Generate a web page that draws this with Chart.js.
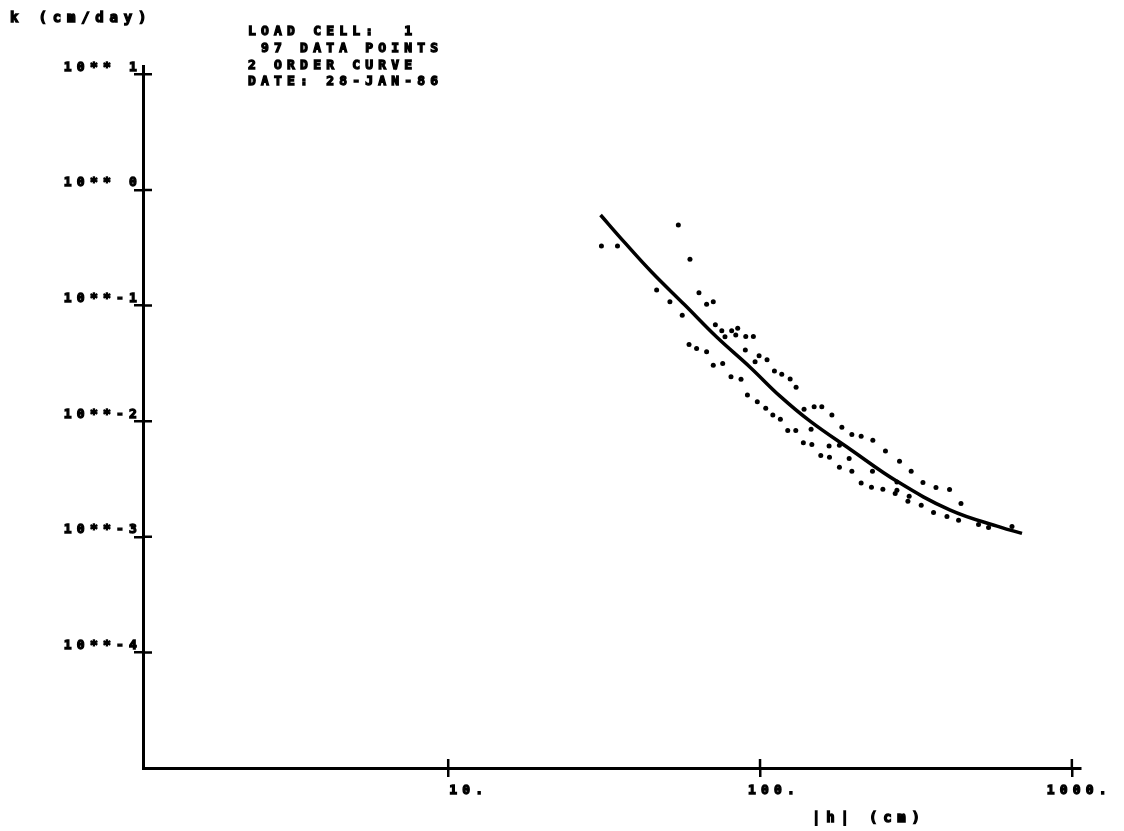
<!DOCTYPE html>
<html>
<head>
<meta charset="utf-8">
<script src="https://cdn.jsdelivr.net/npm/chart.js@4/dist/chart.umd.min.js"></script>
<style>
  body { margin: 0; background: #fff; }
</style>
</head>
<body>
<canvas id="chart" width="1124" height="831"></canvas>
<script>
// tick positions and labels (plotter style)
const xTicks = [10, 100, 1000];
const xTickLabels = ['10.', '100.', '1000.'];
const yTicks = [10, 1, 0.1, 0.01, 0.001, 0.0001];
const yTickLabels = ['10** 1', '10** 0', '10**-1', '10**-2', '10**-3', '10**-4'];

const yTitle = 'k (cm/day)';
const xTitle = '|h| (cm)';
const infoLines = ['LOAD CELL:  1', ' 97 DATA POINTS', '2 ORDER CURVE', 'DATE: 28-JAN-86'];

// measured points, |h| in cm and k in cm/day
const pointH = [31.0, 34.9, 54.7, 59.6, 46.6, 51.4, 63.7, 67.4, 70.8, 56.3,
  71.9, 75.4, 77.2, 81.1, 83.6, 84.8, 90.0, 95.2, 59.2, 62.6,
  67.4, 89.7, 70.8, 75.9, 99.3, 96.4, 105.3, 111.2, 80.7, 86.9,
  91.1, 117.4, 124.9, 130.5, 98.0, 104.3, 109.9, 116.2, 122.7, 130.2,
  138.4, 149.1, 157.8, 170.0, 183.0, 197.0, 211.0, 230.0, 252.5, 280.1,
  145.8, 137.7, 146.6, 166.5, 179.7, 156.6, 167.0, 193.1, 179.7, 197.0,
  229.4, 211.0, 227.7, 247.7, 274.8, 305.3, 333.0, 366.6, 405.3, 441.0,
  642.7, 274.8, 271.3, 300.8, 298.0, 328.8, 360.1, 397.6, 433.2, 502.0,
  540.6];
const pointK = [0.3275, 0.327, 0.498, 0.251, 0.136, 0.108, 0.129, 0.1024, 0.108, 0.0823,
  0.0682, 0.0605, 0.0537, 0.0605, 0.0555, 0.0635, 0.0541, 0.0541, 0.0461, 0.0426,
  0.0398, 0.0412, 0.0305, 0.0316, 0.0368, 0.0326, 0.0339, 0.0271, 0.0242, 0.0230,
  0.0168, 0.0254, 0.0231, 0.0196, 0.0147, 0.0129, 0.0113, 0.0104, 0.0083, 0.0083,
  0.0127, 0.0133, 0.0133, 0.0113, 0.00887, 0.00767, 0.00742, 0.00685, 0.00553, 0.00450,
  0.00853, 0.00649, 0.00628, 0.00611, 0.00620, 0.00505, 0.00488, 0.00475, 0.00400, 0.00369,
  0.00369, 0.00292, 0.00268, 0.00258, 0.00298, 0.00369, 0.00295, 0.00267, 0.00256, 0.00194,
  0.00123, 0.00253, 0.00237, 0.00224, 0.00203, 0.00187, 0.00162, 0.00150, 0.00139, 0.00128,
  0.00120];

// 2nd order fitted curve
const curveH = [30.8, 36.9, 44.9, 57.4, 72.6, 92.9, 115.9, 144.7, 194.5, 274.8,
  407.4, 589.5, 692.0];
const curveK = [0.607, 0.348, 0.195, 0.101, 0.0534, 0.0293, 0.01646, 0.0100, 0.00572, 0.00302,
  0.00170, 0.00121, 0.00107];

const FONT = { family: "'DejaVu Sans Mono', monospace", size: 13, weight: 'bold' };

const plotter = {
  id: 'plotter',
  beforeDraw(chart) {
    chart.ctx.letterSpacing = '5.2px';
  },
  afterDraw(chart) {
    const { ctx, chartArea, scales } = chart;
    ctx.save();
    ctx.strokeStyle = '#000';
    ctx.lineWidth = 2.5;
    // inner half of the cross ticks
    ctx.beginPath();
    yTicks.forEach(v => {
      const py = scales.y.getPixelForValue(v);
      ctx.moveTo(chartArea.left, py);
      ctx.lineTo(chartArea.left + 9, py);
    });
    xTicks.forEach(v => {
      const px = scales.x.getPixelForValue(v);
      ctx.moveTo(px, chartArea.bottom);
      ctx.lineTo(px, chartArea.bottom - 9);
    });
    ctx.stroke();

    ctx.fillStyle = '#000';
    ctx.lineWidth = 1.3;
    ctx.textAlign = 'left';
    ctx.textBaseline = 'middle';
    const put = (t, x, y) => { ctx.fillText(t, x, y); ctx.strokeText(t, x, y); };
    ctx.font = `bold ${FONT.size}px ${FONT.family}`;
    ctx.letterSpacing = '5.2px';
    infoLines.forEach((t, i) => put(t, 248, 32 + i * 16.7));
    ctx.font = `bold 14px ${FONT.family}`;
    ctx.letterSpacing = '5.8px';
    put(yTitle, 10, 18);
    put(xTitle, 812, 818);
    ctx.restore();
  }
};

new Chart(document.getElementById('chart'), {
  type: 'scatter',
  data: {
    datasets: [
      {
        label: 'curve',
        data: curveH.map((h, i) => ({ x: h, y: curveK[i] })),
        showLine: true,
        borderColor: '#000',
        borderWidth: 3.5,
        pointRadius: 0,
        tension: 0.4
      },
      {
        label: 'data',
        data: pointH.map((h, i) => ({ x: h, y: pointK[i] })),
        backgroundColor: '#000',
        borderColor: '#000',
        pointRadius: 2.5,
        borderWidth: 0
      }
    ]
  },
  options: {
    responsive: false,
    animation: false,
    devicePixelRatio: 1,
    layout: { padding: { top: 66, right: 44, left: 0, bottom: 0 } },
    plugins: {
      legend: { display: false },
      tooltip: { enabled: false }
    },
    scales: {
      x: {
        type: 'logarithmic',
        min: 1.05,
        max: 1062,
        afterBuildTicks: s => { s.ticks = xTicks.map(v => ({ value: v })); },
        afterFit: s => { s.height = 63; },
        grid: { drawOnChartArea: false, tickLength: 9, color: '#000', lineWidth: 2.5 },
        border: { color: '#000', width: 3 },
        ticks: {
          autoSkip: false,
          maxRotation: 0,
          align: 'end',
          labelOffset: 40,
          padding: 6,
          color: '#000',
          textStrokeColor: '#000',
          textStrokeWidth: 1.3,
          font: FONT,
          callback: (v, i) => xTickLabels[i]
        }
      },
      y: {
        type: 'logarithmic',
        min: 1e-5,
        max: 11.8,
        afterBuildTicks: s => { s.ticks = yTicks.map(v => ({ value: v })); },
        afterFit: s => { s.width = 143; },
        grid: { drawOnChartArea: false, tickLength: 9, color: '#000', lineWidth: 2.5 },
        border: { color: '#000', width: 3 },
        ticks: {
          autoSkip: false,
          labelOffset: -7,
          padding: -8,
          color: '#000',
          textStrokeColor: '#000',
          textStrokeWidth: 1.3,
          font: FONT,
          callback: (v, i) => yTickLabels[i]
        }
      }
    }
  },
  plugins: [plotter]
});
</script>
</body>
</html>
